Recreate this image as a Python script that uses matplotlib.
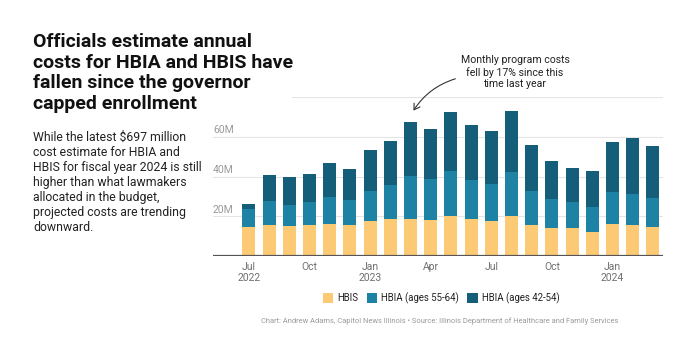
import matplotlib
matplotlib.use("Agg")
import matplotlib.pyplot as plt
import numpy as np

# monthly cost estimates, millions of dollars (Jul 2022 - Mar 2024)
months = ["Jul", "Aug", "Sep", "Oct", "Nov", "Dec", "Jan", "Feb", "Mar", "Apr", "May",
          "Jun", "Jul", "Aug", "Sep", "Oct", "Nov", "Dec", "Jan", "Feb", "Mar"]
hbis = [14.5, 15.7, 15.0, 15.7, 16.3, 15.5, 17.7, 18.7, 18.9, 18.0, 20.3,
        18.4, 17.8, 20.2, 15.7, 14.3, 14.0, 12.0, 16.0, 15.8, 14.8]
top_55_64 = [23.6, 27.9, 25.8, 27.4, 29.6, 28.3, 32.7, 35.9, 40.2, 38.7, 42.6,
             38.4, 36.4, 42.3, 33.0, 28.6, 27.1, 24.6, 32.2, 31.5, 29.1]
totals = [26.3, 40.9, 39.7, 41.1, 47.0, 43.8, 53.5, 57.9, 67.3, 64.1, 72.6,
          66.2, 63.0, 73.1, 56.2, 48.0, 44.4, 42.8, 57.7, 59.4, 55.7]

hbia_55_64 = [t - h for t, h in zip(top_55_64, hbis)]
hbia_42_54 = [t - m for t, m in zip(totals, top_55_64)]

tick_pos = [0, 3, 6, 9, 12, 15, 18]
tick_labels = ["Jul\n2022", "Oct", "Jan\n2023", "Apr", "Jul", "Oct", "Jan\n2024"]

c_hbis = "#fcc975"
c_mid = "#1d82a4"
c_dark = "#155e79"

W, H = 700, 349
fig = plt.figure(figsize=(W / 100, H / 100), dpi=100)
plt.rcParams['font.family'] = ['Roboto', 'DejaVu Sans']


def fx(x):
    return x / W


def fy(y):
    return 1 - y / H


ax = fig.add_axes([fx(213), fy(256), fx(663) - fx(213), fy(97.3) - fy(256)])
x = np.arange(len(months))
w = 0.64
ax.bar(x, hbis, w, color=c_hbis, label="HBIS", zorder=2)
ax.bar(x, hbia_55_64, w, bottom=hbis, color=c_mid, label="HBIA (ages 55-64)", zorder=2)
ax.bar(x, hbia_42_54, w, bottom=top_55_64, color=c_dark, label="HBIA (ages 42-54)", zorder=2)

ax.set_xlim(-1.78, 20.5)
ax.set_ylim(0, 80)
for s in ax.spines.values():
    s.set_visible(False)
ax.axhline(0, color="#555555", lw=1.6, zorder=3)
for g in [20, 40, 60]:
    ax.axhline(g, color="#e4e4e4", lw=0.8, zorder=0)
    ax.text(-1.78, g + 0.9, f"{g}M", fontsize=7.5, color="#9a9a9a", va="bottom", ha="left")
ax.axhline(80, xmin=0.176, color="#e4e4e4", lw=0.8, zorder=0)
ax.set_yticks([])
ax.set_xticks(tick_pos)
ax.set_xticklabels(tick_labels, fontsize=7.5, color="#707070", linespacing=1.2)
ax.tick_params(axis="x", length=0, pad=4)

fig.text(fx(33), fy(33), "Officials estimate annual\ncosts for HBIA and HBIS have\nfallen since the governor\ncapped enrollment",
         fontsize=14, fontweight="bold", color="#111111", va="top", ha="left", linespacing=1.18)
fig.text(fx(33), fy(131), "While the latest $697 million\ncost estimate for HBIA and\nHBIS for fiscal year 2024 is still\nhigher than what lawmakers\nallocated in the budget,\nprojected costs are trending\ndownward.",
         fontsize=8.8, color="#222222", va="top", ha="left", linespacing=1.2)

fig.text(fx(515), fy(55), "Monthly program costs\nfell by 17% since this\ntime last year",
         fontsize=7.6, color="#222222", va="top", ha="center", linespacing=1.2)
fig.add_artist(matplotlib.patches.FancyArrowPatch(
    (fx(458), fy(78)), (fx(412), fy(113)), transform=fig.transFigure,
    connectionstyle="arc3,rad=0.2", arrowstyle="->,head_length=4,head_width=2.5",
    color="#333333", lw=0.8))

leg = fig.legend(loc="center", bbox_to_anchor=(fx(441), fy(298)), ncol=3, frameon=False,
                 fontsize=6.9, handlelength=1.1, handleheight=1.1, handletextpad=0.4,
                 columnspacing=0.9)
for t in leg.get_texts():
    t.set_color("#222222")

fig.text(fx(440), fy(321), "Chart: Andrew Adams, Capitol News Illinois \u2022 Source: Illinois Department of Healthcare and Family Services",
         fontsize=5.4, color="#999999", ha="center", va="center")

fig.savefig("out.png", dpi=100, facecolor="white")
